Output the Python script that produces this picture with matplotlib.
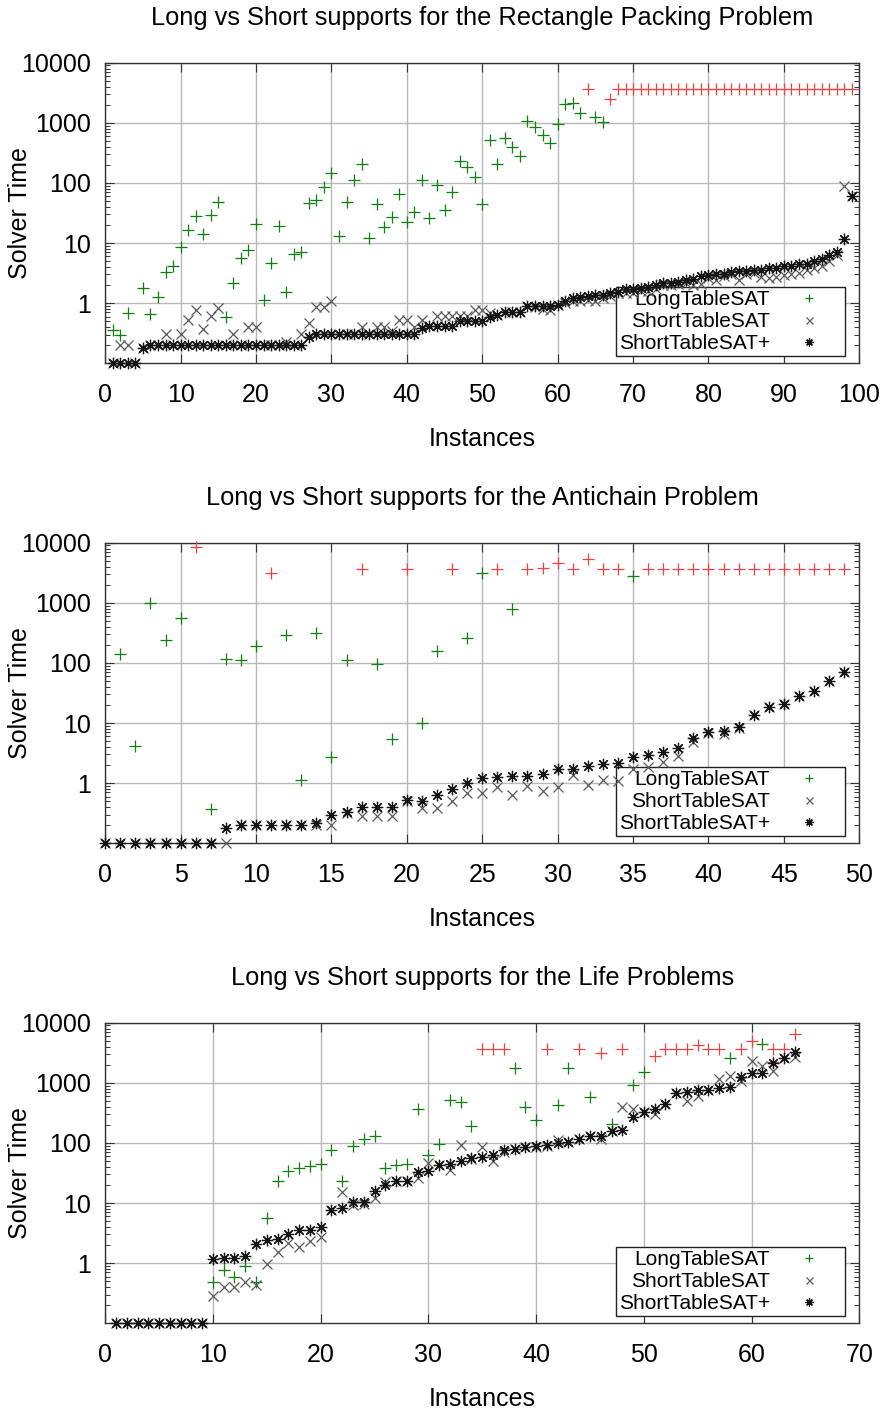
import matplotlib
matplotlib.use("Agg")
import matplotlib.pyplot as plt
from matplotlib.ticker import FixedLocator, LogLocator, NullFormatter, FixedFormatter

plt.rcParams['font.family'] = ['Liberation Sans', 'DejaVu Sans']

# ---------------- Panel 1: Rectangle Packing ----------------
rp_long_x = [1, 2, 3, 5, 6, 7, 8, 9, 10, 11, 12, 13, 14, 15, 16, 17, 18, 19, 20,
             21, 22, 23, 24, 25, 26, 27, 28, 29, 30, 31, 32, 33, 34, 35, 36, 37, 38,
             39, 40, 41, 42, 43, 44, 45, 46, 47, 48, 49, 50, 51, 52, 53, 54, 55, 56,
             57, 58, 59, 60, 61, 62, 63, 65, 66]
rp_long_y = [0.36, 0.30, 0.68, 1.78, 0.66, 1.26, 3.3, 4.1, 8.6, 16.5, 28.6, 14, 29.7,
             49, 0.6, 2.15, 5.7, 7.7, 20.9, 1.14, 4.7, 19, 1.56, 6.5, 7.0, 46, 53, 87,
             149, 13, 49, 111, 204, 12, 45, 18.8, 27.5, 66, 22, 32.5, 110, 25.9, 94,
             35.6, 70, 235, 182, 127, 44, 519, 210, 560, 392, 277, 1087, 863, 620, 456,
             968, 2030, 2160, 1438, 1234, 1032]
rp_to_x = [64, 67, 68, 69, 70, 71, 72, 73, 74, 75, 76, 77, 78, 79, 80, 81, 82, 83, 84,
           85, 86, 87, 88, 89, 90, 91, 92, 93, 94, 95, 96, 97, 98, 99]
rp_to_y = [3600, 2490, 3600, 3600, 3600, 3600, 3600, 3600, 3600, 3600, 3600, 3600,
           3600, 3600, 3600, 3600, 3600, 3600, 3600, 3600, 3600, 3600, 3600, 3600,
           3600, 3600, 3600, 3600, 3600, 3600, 3600, 3600, 3600, 3600]
rp_x = list(range(1, 100))
rp_short = [0.1, 0.2, 0.2, 0.1, 0.18, 0.2, 0.2, 0.31, 0.2, 0.31, 0.52, 0.76, 0.37, 0.62,
            0.83, 0.2, 0.31, 0.2, 0.4, 0.4, 0.2, 0.2, 0.2, 0.23, 0.2, 0.31, 0.47, 0.88,
            0.88, 1.1, 0.31, 0.31, 0.31, 0.4, 0.31, 0.4, 0.4, 0.35, 0.52, 0.52, 0.4,
            0.52, 0.41, 0.62, 0.62, 0.62, 0.62, 0.62, 0.77, 0.77, 0.68, 0.63, 0.72, 0.7,
            0.72, 0.89, 0.85, 0.8, 0.77, 0.93, 1.0, 1.1, 1.1, 1.15, 1.1, 1.2, 1.3, 1.45,
            1.5, 1.5, 1.6, 1.6, 1.7, 2.0, 2.0, 2.1, 2.2, 2.0, 2.1, 2.6, 2.4, 2.8, 3.0,
            2.4, 3.0, 3.2, 2.7, 2.6, 2.7, 2.9, 3.0, 3.2, 3.6, 3.8, 4.2, 5.0, 6.3, 88, 60]
rp_shortp = [0.1, 0.1, 0.1, 0.1, 0.18, 0.2, 0.2, 0.2, 0.2, 0.2, 0.2, 0.2, 0.2, 0.2, 0.2,
             0.2, 0.2, 0.2, 0.2, 0.2, 0.2, 0.2, 0.2, 0.2, 0.2, 0.2, 0.27, 0.31, 0.31,
             0.31, 0.31, 0.31, 0.31, 0.31, 0.31, 0.31, 0.31, 0.31, 0.31, 0.31, 0.31,
             0.38, 0.41, 0.41, 0.41, 0.41, 0.5, 0.5, 0.5, 0.5, 0.6, 0.63, 0.72, 0.72,
             0.72, 0.89, 0.89, 0.89, 0.89, 0.93, 1.08, 1.2, 1.27, 1.3, 1.35, 1.38, 1.48,
             1.52, 1.69, 1.75, 1.77, 1.87, 1.99, 2.18, 2.2, 2.27, 2.47, 2.57, 2.81, 2.92,
             3.03, 3.1, 3.32, 3.4, 3.42, 3.5, 3.55, 3.87, 3.9, 4.1, 4.2, 4.4, 4.5, 5.1,
             5.5, 6.3, 7.1, 11.9, 60]

# ---------------- Panel 2: Antichain ----------------
ac_long_x = [1, 2, 3, 4, 5, 7, 8, 9, 10, 12, 13, 14, 15, 16, 18, 19, 21, 22, 24, 25, 27, 35]
ac_long_y = [139, 4.1, 1007, 241, 567, 0.37, 118, 112, 194, 292, 1.14, 319, 2.74, 112,
             96, 5.5, 10, 158, 264, 3170, 800, 2790]
ac_to_x = [6, 11, 17, 20, 23, 26, 28, 29, 30, 31, 32, 33, 34, 36, 37, 38, 39, 40, 41,
           42, 43, 44, 45, 46, 47, 48, 49]
ac_to_y = [8360, 3090, 3600, 3600, 3600, 3600, 3600, 3740, 4650, 3600, 5350, 3600, 3600,
           3600, 3600, 3600, 3600, 3600, 3600, 3600, 3600, 3600, 3600, 3600, 3600, 3600,
           3600]
ac_x = list(range(0, 50))
ac_short = [0.1, 0.1, 0.1, 0.1, 0.1, 0.1, 0.1, 0.1, 0.1, 0.2, 0.2, 0.2, 0.2, 0.2, 0.2,
            0.2, 0.32, 0.29, 0.29, 0.29, 0.5, 0.38, 0.38, 0.5, 0.68, 0.69, 0.88, 0.64,
            0.9, 0.73, 0.88, 1.38, 0.94, 1.14, 1.1, 1.71, 1.85, 2.29, 2.88, 4.8, 6.9,
            6.5, 8.2, 13.7, 18.5, 20.8, 28.3, 34.3, 50, 72]
ac_shortp = [0.1, 0.1, 0.1, 0.1, 0.1, 0.1, 0.1, 0.1, 0.18, 0.2, 0.2, 0.2, 0.2, 0.2, 0.22,
             0.3, 0.33, 0.4, 0.4, 0.4, 0.52, 0.5, 0.64, 0.79, 1.0, 1.21, 1.26, 1.32,
             1.32, 1.41, 1.73, 1.73, 1.94, 2.07, 2.2, 2.7, 2.92, 3.36, 3.82, 5.74, 7.05,
             7.25, 8.53, 13.7, 18.8, 20.8, 28.3, 34.3, 50, 72]

# ---------------- Panel 3: Life ----------------
lf_long_x = [10, 11, 12, 13, 14, 15, 16, 17, 18, 19, 20, 21, 22, 23, 24, 25, 26, 27, 28,
             29, 30, 31, 32, 33, 34, 38, 39, 40, 42, 43, 45, 47, 49, 50, 58, 61]
lf_long_y = [0.49, 0.78, 0.6, 0.89, 0.49, 5.6, 23.7, 33.5, 38, 40.6, 44, 77, 23.7, 89,
             115, 128, 39, 43, 45, 363, 62, 95, 519, 475, 192, 1743, 393, 242, 428, 1788,
             575, 207, 923, 1496, 2560, 4370]
lf_to_x = [35, 36, 37, 41, 44, 46, 48, 51, 52, 53, 54, 55, 56, 57, 59, 60, 62, 62, 63, 64]
lf_to_y = [3600, 3600, 3600, 3600, 3600, 3175, 3600, 2833, 3600, 3600, 3600, 4200, 3600,
           3600, 3600, 4950, 3600, 2190, 3600, 6400]
lf_x = list(range(1, 65))
lf_short = [0.1, 0.1, 0.1, 0.1, 0.1, 0.1, 0.1, 0.1, 0.1, 0.29, 0.4, 0.4, 0.49, 0.44,
            0.97, 1.51, 2.16, 1.85, 2.35, 2.72, 7.7, 15, 9.35, 9.5, 12.1, 22, 23.4, 23.4,
            26.6, 47, 43, 35.7, 93, 55, 87, 51, 72, 78, 84, 86, 88, 110, 102, 118, 128,
            115, 161, 403, 363, 333, 304, 446, 670, 506, 605, 760, 1146, 1318, 1089,
            2340, 1930, 1600, 2600, 2680]
lf_shortp = [0.1, 0.1, 0.1, 0.1, 0.1, 0.1, 0.1, 0.1, 0.1, 1.17, 1.21, 1.23, 1.33, 2.08,
             2.46, 2.55, 3.09, 3.6, 3.6, 3.93, 7.7, 8.25, 10.6, 10.6, 15.6, 20.1, 23.4,
             23.4, 32.7, 34.8, 42.2, 44, 50.4, 55.7, 59.4, 63, 76.7, 78, 84, 89, 92, 100,
             102, 118, 128, 131, 161, 165, 275, 333, 368, 446, 670, 695, 760, 760, 811,
             864, 1240, 1450, 1440, 2100, 2560, 3300]

titles = ["Long vs Short supports for the Rectangle Packing Problem",
          "Long vs Short supports for the Antichain Problem",
          "Long vs Short supports for the Life Problems"]
xmax = [100, 50, 70]
xstep = [10, 5, 10]
ytick_vals = [1, 10, 100, 1000, 10000]
ytick_labels = ["1", "10", "100", "1000", "10000"]

panels = [
    (rp_long_x, rp_long_y, rp_to_x, rp_to_y, rp_x, rp_short, rp_shortp),
    (ac_long_x, ac_long_y, ac_to_x, ac_to_y, ac_x, ac_short, ac_shortp),
    (lf_long_x, lf_long_y, lf_to_x, lf_to_y, lf_x, lf_short, lf_shortp),
]

GREEN = '#0f7f0f'
RED = '#f04040'
GRAY = '#5a5a5a'
BLACK = '#151515'
STAR = (8, 2, 0)

W, H = 893, 1412
fig = plt.figure(figsize=(W / 100, H / 100), dpi=100)
ax_left, ax_right = 105.2, 859.3
tops = [62.7, 542.7, 1022.7]
ax_h = 300.6

FS = 18
for i, (lx, ly, tx, ty, sx, ss, sp) in enumerate(panels):
    top = tops[i]
    ax = fig.add_axes([ax_left / W, 1 - (top + ax_h) / H, (ax_right - ax_left) / W, ax_h / H])
    ax.set_axisbelow(True)
    ax.set_yscale('log')
    ax.set_ylim(0.1, 10000)
    ax.set_xlim(0, xmax[i])

    ax.plot(lx, ly, linestyle='none', marker='+', ms=8.2, mew=0.9, color=GREEN,
            label='LongTableSAT', clip_on=False, zorder=3)
    ax.plot(tx, ty, linestyle='none', marker='+', ms=8.2, mew=0.9, color=RED,
            clip_on=False, zorder=3)
    ax.plot(sx, ss, linestyle='none', marker='x', ms=7.2, mew=0.9, color=GRAY,
            label='ShortTableSAT', clip_on=False, zorder=3)
    ax.plot(sx, sp, linestyle='none', marker=STAR, ms=8.2, mew=0.9, color=BLACK,
            label='ShortTableSAT+', clip_on=False, zorder=3)

    ax.xaxis.set_major_locator(FixedLocator(list(range(0, xmax[i] + 1, xstep[i]))))
    ax.yaxis.set_major_locator(FixedLocator(ytick_vals))
    ax.yaxis.set_major_formatter(FixedFormatter(ytick_labels))
    ax.yaxis.set_minor_locator(LogLocator(base=10, subs=range(2, 10), numticks=20))
    ax.yaxis.set_minor_formatter(NullFormatter())

    ax.grid(True, which='major', color='#b8b8b8', linewidth=1.0)
    ax.tick_params(axis='both', which='major', direction='in', length=6.5, width=0.8,
                   color='#333333', top=True, right=True, labelsize=FS)
    ax.tick_params(axis='y', which='minor', direction='in', length=3.5, width=0.7,
                   color='#333333', left=True, right=True)
    ax.tick_params(axis='x', which='major', pad=14.5)
    ax.tick_params(axis='y', which='major', pad=10.5)
    for sp_ in ax.spines.values():
        sp_.set_color('#333333')
        sp_.set_linewidth(1.0)

    ax.set_title(titles[i], fontsize=18.3, pad=27.5)
    ax.set_xlabel('Instances', fontsize=FS)
    ax.set_ylabel('Solver Time', fontsize=FS)
    ax.xaxis.set_label_coords(0.5, -0.213)
    ax.yaxis.set_label_coords(-0.097, 0.5)

    leg = ax.legend(loc='lower right', bbox_to_anchor=(0.9814, 0.0243), borderaxespad=0,
                    markerfirst=False, fontsize=15, frameon=True, fancybox=False,
                    edgecolor='#222222', facecolor='white', framealpha=1.0,
                    handlelength=3.2, handletextpad=0.27, borderpad=0.15,
                    labelspacing=0.14, markerscale=0.7, numpoints=1)
    leg.get_frame().set_linewidth(1.0)
    leg.set_zorder(1)

fig.savefig('out.png', dpi=100)
